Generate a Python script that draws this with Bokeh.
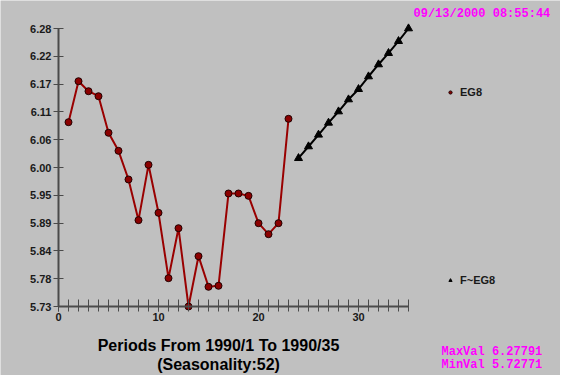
from bokeh.plotting import figure
from bokeh.models import (Range1d, FixedTicker, PrintfTickFormatter, Legend, LegendItem,
                          Label)
from bokeh.embed import file_html
from bokeh.resources import INLINE

# ---- data ----
eg8_x = list(range(1, 24))
eg8_y = [6.0925, 6.1736, 6.1538, 6.1439, 6.0715, 6.0358, 5.9791, 5.8986, 6.0081,
         5.9131, 5.7838, 5.8827, 5.72771, 5.8273, 5.7667, 5.7687, 5.9514, 5.9514,
         5.9467, 5.8926, 5.8708, 5.8926, 6.0992]
feg8_x = list(range(24, 36))
feg8_y = [6.0212, 6.0444, 6.0675, 6.0912, 6.1136, 6.1374, 6.1578, 6.1829,
          6.2067, 6.2291, 6.2528, 6.27791]
min_val = 5.72771
max_val = 6.27791
x_major = [0, 10, 20, 30]
x_last = 35
timestamp = "09/13/2000 08:55:44"
title_lines = ["Periods From 1990/1 To 1990/35", "(Seasonality:52)"]

BG = "#c0c0c0"
AX = "#4a4a4a"

step = (max_val - min_val) / 10
y_ticks = [min_val + k * step for k in range(11)]

p = figure(width=560, height=375, output_backend="svg", toolbar_location=None,
           x_range=Range1d(-5.8, 50.2), y_range=Range1d(5.59115, 6.33333),
           min_border=0)
p.background_fill_color = BG
p.border_fill_color = BG
p.outline_line_color = None
p.grid.visible = False

# axes
xa = p.xaxis[0]
xa.fixed_location = min_val
xa.bounds = (0, x_last)
xa.ticker = FixedTicker(ticks=x_major, minor_ticks=list(range(0, x_last + 1)))
xa.axis_line_color = AX
xa.axis_line_width = 2
xa.major_tick_line_color = AX
xa.minor_tick_line_color = AX
xa.major_tick_line_width = 1
xa.minor_tick_line_width = 1
xa.major_tick_in = 7
xa.major_tick_out = 5
xa.minor_tick_in = 7
xa.minor_tick_out = 5
xa.major_label_text_font = "Liberation Sans"
xa.major_label_text_font_style = "bold"
xa.major_label_text_font_size = "11px"
xa.major_label_text_color = "#1a1a1a"
xa.major_label_standoff = 1

ya = p.yaxis[0]
ya.fixed_location = 0
ya.bounds = (min_val, max_val)
ya.ticker = FixedTicker(ticks=y_ticks, minor_ticks=[])
ya.formatter = PrintfTickFormatter(format="%.2f")
ya.axis_line_color = AX
ya.axis_line_width = 2
ya.major_tick_line_color = AX
ya.major_tick_line_width = 1
ya.major_tick_in = 5
ya.major_tick_out = 5
ya.minor_tick_line_color = None
ya.major_label_text_font = "Liberation Sans"
ya.major_label_text_font_style = "bold"
ya.major_label_text_font_size = "11px"
ya.major_label_text_color = "#1a1a1a"
ya.major_label_standoff = 2

# series
p.line(eg8_x, eg8_y, line_color="#990000", line_width=2)
eg8_pts = p.scatter(eg8_x, eg8_y, marker="circle", size=7, fill_color="#8b0000",
                    line_color="#200000", line_width=1)
p.line(feg8_x, feg8_y, line_color="black", line_width=2)
feg8_pts = p.scatter(feg8_x, feg8_y, marker="triangle", size=8, fill_color="black",
                     line_color="black")

def make_legend(label, rend, loc):
    lg = Legend(items=[LegendItem(label=label, renderers=[rend])], location=loc,
                background_fill_alpha=0, border_line_alpha=0, padding=0, margin=0,
                glyph_width=8, glyph_height=12, label_height=12, label_standoff=6,
                label_text_font="Liberation Sans", label_text_font_size="11px",
                label_text_font_style="bold", label_text_color="#1a1a1a")
    p.add_layout(lg, "center")

make_legend("EG8", eg8_pts, (446, 277))
make_legend("F~EG8", feg8_pts, (446, 89))

# texts (screen units from the canvas lower-left corner)
mono = "Liberation Mono"
def mlabel(x, y, text):
    p.add_layout(Label(x=x, y=y, x_units="screen", y_units="screen", text=text,
                       text_font=mono, text_font_size="12px", text_font_style="bold",
                       text_color="#ff00ff", text_baseline="middle"))

mlabel(413, 362, timestamp)
mlabel(441, 24, "MaxVal %.5f" % max_val)
mlabel(441, 11, "MinVal %.5f" % min_val)

for yy, t in zip([30, 11], title_lines):
    p.add_layout(Label(x=218, y=yy, x_units="screen", y_units="screen", text=t,
                       text_font="Liberation Sans", text_font_size="16px",
                       text_font_style="bold", text_color="black",
                       text_align="center", text_baseline="middle"))

open("out.html", "w").write(file_html(p, INLINE))
